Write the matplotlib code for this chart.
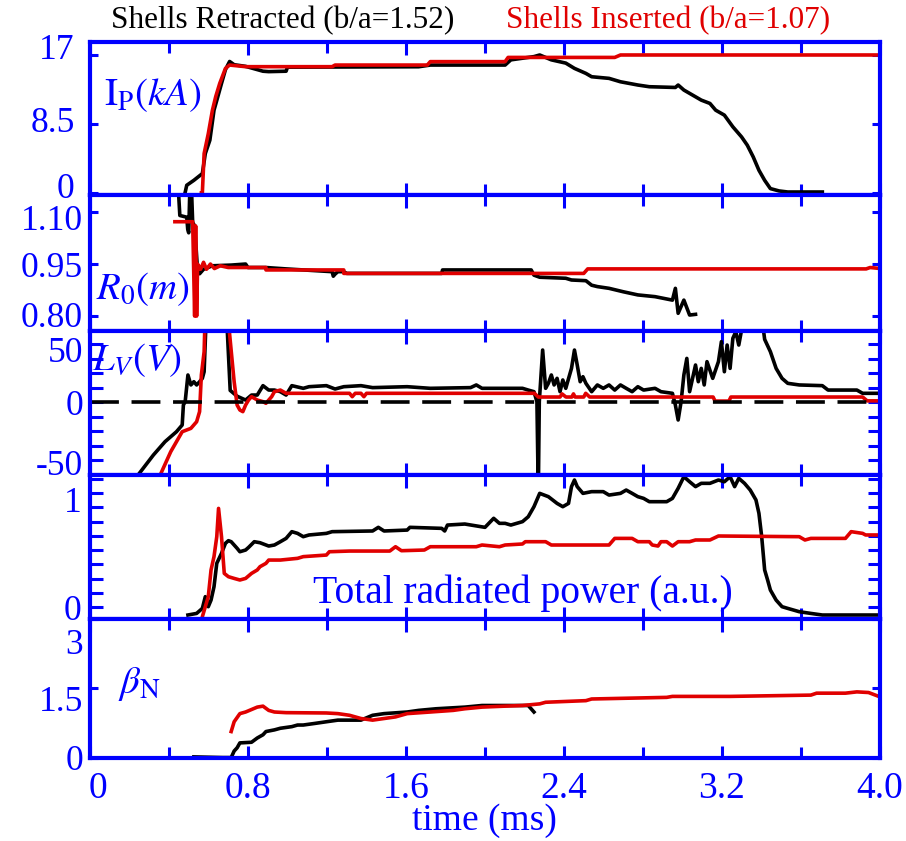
import matplotlib
matplotlib.use("Agg")
import matplotlib.pyplot as plt
from matplotlib.ticker import MultipleLocator, FixedLocator
from matplotlib.transforms import ScaledTranslation

plt.rcParams['font.family'] = ['Liberation Serif', 'DejaVu Serif']
plt.rcParams['mathtext.fontset'] = 'stix'

BLUE = '#0000ff'
RED = '#e00000'
BLACK = '#000000'

# ---- plasma current I_P (kA) ----
ip_retracted = [(0.473, -0.9), (0.490, 0.95), (0.526, 1.56), (0.569, 2.39), (0.584, 4.86), (0.607, 6.5),
                (0.628, 10.2), (0.642, 11.4), (0.666, 13.5), (0.686, 15.2), (0.707, 16.2), (0.730, 15.8),
                (0.788, 15.6), (0.876, 15.0), (0.905, 14.95), (0.993, 15.0), (1.0, 15.5), (1.664, 15.55),
                (1.723, 15.76), (2.102, 15.76), (2.131, 16.4), (2.248, 16.8), (2.277, 17.0), (2.336, 16.4),
                (2.409, 16.0), (2.453, 15.35), (2.511, 14.73), (2.540, 14.32), (2.628, 14.12), (2.686, 13.7),
                (2.774, 13.3), (2.832, 13.09), (2.964, 13.0), (2.978, 13.3), (3.007, 12.68), (3.066, 11.85),
                (3.095, 11.44), (3.139, 11.03), (3.168, 10.2), (3.212, 9.59), (3.255, 8.15), (3.299, 6.91),
                (3.328, 5.89), (3.358, 4.45), (3.387, 2.8), (3.416, 1.56), (3.445, 0.54), (3.489, 0.25),
                (3.533, 0.12), (3.708, 0.12)]
ip_inserted = [(0.564, 0.0), (0.569, 0.0), (0.578, 4.86), (0.599, 7.3), (0.620, 10.2), (0.637, 11.9),
               (0.657, 13.5), (0.686, 15.35), (0.707, 15.76), (0.788, 15.56), (1.226, 15.56), (1.241, 15.76),
               (1.708, 15.76), (1.723, 16.18), (2.102, 16.18), (2.117, 16.7), (2.657, 16.7), (2.686, 17.0),
               (4.0, 17.0)]

# ---- major radius R_0 (m) ----
r0_retracted = [(0.45, 1.14), (0.455, 1.09), (0.49, 1.085), (0.495, 1.05), (0.50, 1.04), (0.505, 1.15),
                (0.515, 1.15), (0.52, 1.07), (0.53, 1.06), (0.545, 0.93), (0.555, 0.922), (0.575, 0.935),
                (0.62, 0.945), (0.715, 0.947), (0.788, 0.95), (0.80, 0.94), (0.891, 0.940), (0.993, 0.936),
                (1.226, 0.928), (1.232, 0.915), (1.241, 0.921), (1.255, 0.928), (1.285, 0.928), (1.30, 0.923),
                (1.781, 0.923), (1.785, 0.933), (2.234, 0.933), (2.248, 0.918), (2.277, 0.912), (2.409, 0.909),
                (2.438, 0.904), (2.511, 0.902), (2.540, 0.889), (2.569, 0.885), (2.628, 0.880), (2.701, 0.870),
                (2.774, 0.861), (2.861, 0.856), (2.949, 0.846), (2.964, 0.880), (2.978, 0.808), (3.007, 0.846),
                (3.036, 0.803), (3.066, 0.805)]
r0_inserted = [(0.43, 1.072), (0.52, 1.072), (0.53, 0.80), (0.535, 1.06), (0.54, 0.80), (0.545, 0.95),
               (0.56, 0.935), (0.575, 0.955), (0.59, 0.935), (0.61, 0.95), (0.63, 0.937), (0.66, 0.945),
               (0.70, 0.940), (0.891, 0.940), (0.891, 0.933), (1.285, 0.933), (1.285, 0.923), (2.50, 0.923),
               (2.52, 0.936), (3.93, 0.936), (3.95, 0.94), (3.985, 0.938)]

# ---- loop voltage L_V (V) ----
lv_retracted = [(0.234, -65), (0.321, -45.7), (0.380, -34.2), (0.438, -25.6), (0.467, -19.8), (0.473, -2.6),
                (0.482, 0.3), (0.496, 23.3), (0.511, 14.7), (0.526, 17.5), (0.540, 14.7), (0.555, 17.5),
                (0.569, 20.4), (0.578, 26.1), (0.590, 80), (0.690, 80), (0.710, 10), (0.745, 5), (0.788, 1.7),
                (0.818, 6.0), (0.847, 6.0), (0.876, 14.1), (0.905, 10.3), (0.934, 10.3), (0.964, 8.9),
                (0.993, 6.0), (1.022, 14.1), (1.080, 11.8), (1.109, 13.2), (1.197, 14.1), (1.241, 11.2),
                (1.285, 13.2), (1.372, 14.1), (1.431, 12.4), (1.606, 13.2), (1.723, 11.8), (1.927, 12.4),
                (1.956, 14.7), (1.985, 11.8), (2.190, 11.8), (2.219, 10.3), (2.248, 8.9), (2.263, 0.3),
                (2.270, -80), (2.275, 0.3), (2.292, 44.8), (2.307, 11.8), (2.321, 16.1), (2.336, 23.3),
                (2.350, 14.7), (2.365, 20.4), (2.380, 8.9), (2.394, 19.0), (2.409, 11.8), (2.438, 29.0),
                (2.453, 44.8), (2.467, 31.9), (2.482, 17.5), (2.496, 21.8), (2.511, 16.1), (2.540, 8.9),
                (2.569, 14.7), (2.599, 11.8), (2.628, 14.7), (2.657, 10.3), (2.686, 14.7), (2.715, 11.8),
                (2.745, 8.9), (2.774, 13.2), (2.803, 10.3), (2.861, 11.8), (2.891, 8.9), (2.949, 7.5),
                (2.964, -2.6), (2.978, -15.5), (2.993, 0.3), (3.007, 23.3), (3.022, 37.6), (3.036, 8.9),
                (3.066, 31.9), (3.080, 17.5), (3.095, 29.0), (3.110, 14.7), (3.124, 34.8), (3.153, 20.4),
                (3.182, 34.8), (3.197, 52.0), (3.212, 26.1), (3.226, 49.1), (3.241, 29.0), (3.255, 54.9),
                (3.270, 60.6), (3.285, 49.1), (3.299, 62), (3.314, 75), (3.400, 75), (3.416, 54),
                (3.445, 43.4), (3.474, 29.0), (3.504, 20.4), (3.533, 16.1), (3.591, 14.7), (3.708, 14.1),
                (3.737, 10.3), (3.883, 10.3), (3.912, 7.5), (3.985, 7.5)]
lv_inserted = [(0.350, -65), (0.409, -42.8), (0.438, -34.2), (0.467, -25.6), (0.511, -22.7), (0.540, -17.0),
               (0.555, -8.3), (0.564, 23.3), (0.578, 43.4), (0.584, 80), (0.695, 80), (0.730, 17.5),
               (0.745, -2.6), (0.759, -6.9), (0.774, -8.3), (0.788, -2.6), (0.803, 1.7), (0.818, 4.6),
               (0.847, 1.7), (0.876, 0.3), (0.891, -1.1), (0.920, 4.6), (0.934, 8.9), (0.964, 10.3),
               (0.993, 7.5), (1.314, 7.5), (1.328, 4.6), (1.343, 7.5), (1.372, 7.5), (1.387, 4.6),
               (1.400, 7.5), (2.250, 7.5), (2.270, 4.3), (2.380, 4.3), (2.390, 7.0), (2.410, 4.3),
               (2.440, 4.3), (2.448, 7.0), (2.456, 4.3), (2.500, 4.3), (2.510, 7.5), (2.530, 4.3),
               (3.155, 4.3), (3.165, 0.8), (3.235, 0.8), (3.245, 4.3), (3.912, 4.3), (3.935, 1.0),
               (3.985, 1.0)]

# ---- total radiated power (a.u.) ----
prad_retracted = [(0.496, -0.070), (0.540, -0.056), (0.569, -0.012), (0.584, 0.091), (0.599, 0.003),
                  (0.613, 0.061), (0.628, 0.178), (0.642, 0.383), (0.666, 0.471), (0.686, 0.559),
                  (0.701, 0.582), (0.715, 0.573), (0.745, 0.515), (0.759, 0.485), (0.788, 0.500),
                  (0.803, 0.523), (0.832, 0.573), (0.861, 0.564), (0.905, 0.535), (0.934, 0.544),
                  (0.964, 0.573), (0.993, 0.602), (1.022, 0.661), (1.051, 0.646), (1.080, 0.617),
                  (1.109, 0.632), (1.197, 0.646), (1.226, 0.661), (1.431, 0.667), (1.460, 0.699),
                  (1.489, 0.667), (1.606, 0.675), (1.620, 0.699), (1.781, 0.690), (1.796, 0.667),
                  (1.810, 0.719), (1.898, 0.728), (2.000, 0.699), (2.044, 0.778), (2.073, 0.734),
                  (2.102, 0.734), (2.131, 0.719), (2.190, 0.749), (2.219, 0.792), (2.248, 0.880),
                  (2.277, 0.997), (2.321, 0.968), (2.365, 0.909), (2.394, 0.880), (2.423, 0.909),
                  (2.438, 1.056), (2.453, 1.114), (2.467, 1.056), (2.496, 0.997), (2.540, 1.012),
                  (2.599, 1.012), (2.628, 0.982), (2.686, 0.997), (2.715, 1.026), (2.745, 0.997),
                  (2.774, 0.968), (2.803, 0.953), (2.832, 0.924), (2.920, 0.924), (2.949, 0.953),
                  (2.978, 1.041), (3.007, 1.143), (3.036, 1.099), (3.066, 1.056), (3.095, 1.085),
                  (3.139, 1.085), (3.182, 1.114), (3.212, 1.099), (3.241, 1.143), (3.264, 1.056),
                  (3.285, 1.129), (3.314, 1.085), (3.343, 1.026), (3.372, 0.939), (3.387, 0.822),
                  (3.401, 0.617), (3.416, 0.325), (3.431, 0.237), (3.445, 0.149), (3.474, 0.061),
                  (3.504, 0.003), (3.533, -0.012), (3.591, -0.041), (3.650, -0.056), (3.708, -0.070),
                  (3.985, -0.070)]
prad_inserted = [(0.564, -0.143), (0.569, -0.085), (0.584, 0.003), (0.599, 0.091), (0.613, 0.325),
                 (0.628, 0.442), (0.642, 0.617), (0.651, 0.865), (0.666, 0.617), (0.680, 0.295),
                 (0.701, 0.266), (0.730, 0.251), (0.759, 0.237), (0.788, 0.251), (0.818, 0.295),
                 (0.847, 0.325), (0.861, 0.354), (0.891, 0.383), (0.905, 0.412), (0.964, 0.412),
                 (1.051, 0.427), (1.080, 0.442), (1.197, 0.456), (1.212, 0.485), (1.314, 0.491),
                 (1.518, 0.491), (1.547, 0.529), (1.577, 0.494), (1.693, 0.500), (1.723, 0.529),
                 (1.956, 0.529), (1.985, 0.544), (2.073, 0.529), (2.102, 0.544), (2.190, 0.553),
                 (2.204, 0.573), (2.307, 0.573), (2.336, 0.544), (2.628, 0.544), (2.657, 0.602),
                 (2.745, 0.602), (2.774, 0.573), (2.832, 0.573), (2.847, 0.544), (2.876, 0.535),
                 (2.891, 0.573), (2.920, 0.573), (2.949, 0.535), (2.978, 0.573), (3.036, 0.573),
                 (3.066, 0.588), (3.139, 0.588), (3.182, 0.623), (3.591, 0.617), (3.620, 0.588),
                 (3.650, 0.602), (3.825, 0.602), (3.854, 0.661), (3.912, 0.646), (3.927, 0.632),
                 (3.985, 0.632)]

# ---- normalised beta ----
betan_retracted = [(0.526, 0.014), (0.672, 0.0), (0.715, 0.0), (0.730, 0.141), (0.745, 0.211),
                   (0.759, 0.317), (0.818, 0.331), (0.847, 0.423), (0.876, 0.493), (0.891, 0.563),
                   (0.934, 0.599), (0.964, 0.634), (1.022, 0.669), (1.051, 0.704), (1.080, 0.704),
                   (1.139, 0.739), (1.197, 0.775), (1.255, 0.810), (1.372, 0.810), (1.431, 0.915),
                   (1.489, 0.951), (1.606, 0.986), (1.664, 1.021), (1.752, 1.056), (1.898, 1.092),
                   (1.985, 1.127), (2.219, 1.127), (2.248, 0.986)]
betan_inserted = [(0.715, 0.563), (0.730, 0.775), (0.759, 0.951), (0.788, 0.986), (0.847, 1.092),
                  (0.876, 1.113), (0.905, 1.021), (0.934, 0.986), (0.993, 0.972), (1.197, 0.965),
                  (1.255, 0.951), (1.314, 0.915), (1.372, 0.845), (1.431, 0.810), (1.489, 0.845),
                  (1.547, 0.880), (1.606, 0.951), (1.723, 0.986), (1.839, 1.021), (1.898, 1.056),
                  (1.985, 1.092), (2.102, 1.113), (2.190, 1.127), (2.277, 1.162), (2.307, 1.197),
                  (2.511, 1.232), (2.540, 1.268), (2.920, 1.303), (2.949, 1.324), (3.241, 1.324),
                  (3.650, 1.352), (3.679, 1.394), (3.825, 1.394), (3.883, 1.422), (3.942, 1.408),
                  (3.985, 1.338)]

x_ticks = [0, 0.8, 1.6, 2.4, 3.2, 4.0]
x_tick_labels = ['0', '0.8', '1.6', '2.4', '3.2', '4.0']

fig = plt.figure(figsize=(9.06, 8.41), dpi=100)
L, W = 0.0993, 0.8720
rects = [
    [L, 0.76813, W, 0.18193],
    [L, 0.60642, W, 0.16171],
    [L, 0.43520, W, 0.17122],
    [L, 0.26397, W, 0.17122],
    [L, 0.09869, W, 0.16528],
]
axes = [fig.add_axes(r) for r in rects]

# (black, red, ylim, yticks, ytick labels, minor step, label pad, label vertical nudges in px)
panels = [
    (ip_retracted, ip_inserted, (-0.25, 18.6), [0, 8.5, 17], ['0', '8.5', '17'], None, 11, [7, 4, 8]),
    (r0_retracted, r0_inserted, (0.757, 1.149), [0.80, 0.95, 1.10], ['0.80', '0.95', '1.10'], None, 5, [2, 0, -5]),
    (lv_retracted, lv_inserted, (-62.9, 61.2), [-50, 0, 50], ['-50', '0', '50'], 12.5, 5, [-2, 0, -6]),
    (prad_retracted, prad_inserted, (-0.105, 1.158), [0, 1], ['0', '1'], 0.125, 6, [0, -6]),
    (betan_retracted, betan_inserted, (-0.01, 3.0), [0, 1.5, 3], ['0', '1.5', '3'], None, 5, [0, -10, -22]),
]

LW = 2.6
for ax, (blk, red, ylim, yt, ytl, yminor, ypad, nudges) in zip(axes, panels):
    tb, vb = zip(*blk)
    tr, vr = zip(*red)
    ax.plot(tb, vb, color=BLACK, lw=LW)
    ax.plot(tr, vr, color=RED, lw=LW)
    ax.set_xlim(0, 4.0)
    ax.set_ylim(*ylim)
    for s in ax.spines.values():
        s.set_color(BLUE)
        s.set_linewidth(3.0)
    ax.xaxis.set_major_locator(FixedLocator(x_ticks))
    ax.xaxis.set_minor_locator(MultipleLocator(0.4))
    ax.set_yticks(yt)
    ax.set_yticklabels(ytl)
    if yminor is not None:
        ax.yaxis.set_minor_locator(MultipleLocator(yminor))
        ax.tick_params(axis='y', which='both', length=9, width=2.2)
    else:
        ax.tick_params(axis='y', which='major', length=6, width=2.2)
    ax.tick_params(axis='both', which='both', direction='in', colors=BLUE,
                   top=True, right=True)
    ax.tick_params(axis='y', labelsize=25.5)
    ax.tick_params(axis='x', labelsize=27)
    ax.tick_params(axis='x', which='major', length=9, width=2.2)
    ax.tick_params(axis='x', which='minor', length=8, width=2.2)
    ax.tick_params(axis='y', which='major', pad=ypad)
    ax.tick_params(axis='x', labelbottom=False)
    for tick, dy in zip(ax.yaxis.get_major_ticks(), nudges):
        lbl = tick.label1
        lbl.set_color(BLUE)
        lbl.set_transform(lbl.get_transform() + ScaledTranslation(0, dy / 100, fig.dpi_scale_trans))

# zero reference for the loop voltage
axes[2].axhline(0, color=BLACK, lw=2.6, ls=(0, (8, 3.5)))

# bottom panel carries the time axis
axb = axes[4]
axb.set_xticks(x_ticks)
axb.set_xticklabels(x_tick_labels)
axb.tick_params(axis='x', labelbottom=True, pad=10)
zero_lbl = axb.xaxis.get_major_ticks()[0].label1
zero_lbl.set_transform(zero_lbl.get_transform() + ScaledTranslation(0.08, 0, fig.dpi_scale_trans))

# panel labels
axes[0].text(0.018, 0.65, r'$\mathrm{I}_{\mathrm{P}}(kA)$', transform=axes[0].transAxes,
             color=BLUE, fontsize=28, va='center', ha='left')
axes[1].text(0.008, 0.31, r'$R_0(m)$', transform=axes[1].transAxes,
             color=BLUE, fontsize=28, va='center', ha='left')
axes[2].text(0.003, 0.80, r'$L_V(V)$', transform=axes[2].transAxes,
             color=BLUE, fontsize=28, va='center', ha='left')
axes[3].text(0.548, 0.18, 'Total radiated power (a.u.)', transform=axes[3].transAxes,
             color=BLUE, fontsize=28.5, va='center', ha='center')
axes[4].text(0.035, 0.53, r'$\beta_{\mathrm{N}}$', transform=axes[4].transAxes,
             color=BLUE, fontsize=28, va='center', ha='left')

fig.text(0.535, 1 - 821 / 841, 'time (ms)', color=BLUE, fontsize=27, ha='center', va='center')
fig.text(0.312, 0.975, 'Shells Retracted (b/a=1.52)', color=BLACK, fontsize=22.5, ha='center', va='center')
fig.text(0.737, 0.975, 'Shells Inserted (b/a=1.07)', color=RED, fontsize=22.5, ha='center', va='center')

fig.savefig('out.png', dpi=100)
